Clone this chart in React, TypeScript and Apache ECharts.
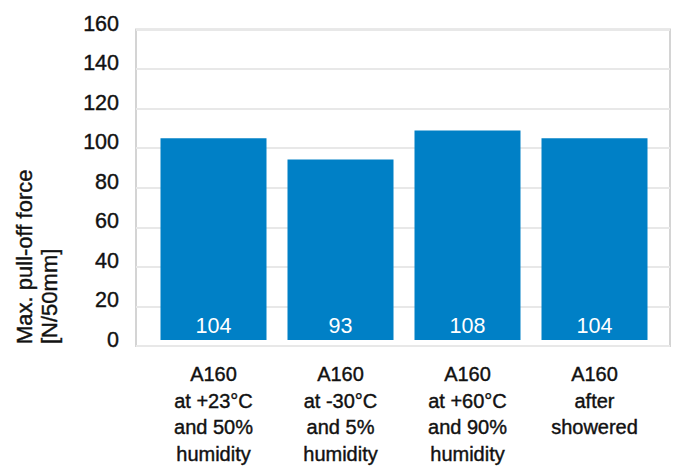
import React, { useEffect, useRef } from "react";
import * as echarts from "echarts";

const categories = [
  "A160\nat +23°C\nand 50%\nhumidity",
  "A160\nat -30°C\nand 5%\nhumidity",
  "A160\nat +60°C\nand 90%\nhumidity",
  "A160\nafter\nshowered",
];
const values = [104, 93, 108, 104];
const yTitleLines = ["Max. pull-off force", "[N/50mm]"];

const FONT = "'Liberation Sans', Arial, Helvetica, sans-serif";
const INK = "#111111";

export default function App() {
  const ref = useRef<HTMLDivElement>(null);
  useEffect(() => {
    if (!ref.current) return;
    const chart = echarts.init(ref.current, undefined, { renderer: "svg" });
    chart.setOption({
      animation: false,
      backgroundColor: "#ffffff",
      textStyle: { fontFamily: FONT },
      grid: [
        {
          left: 136,
          right: 8,
          top: 29.5,
          bottom: 121,
          show: true,
          borderColor: "#d4d4d4",
          borderWidth: 2,
          backgroundColor: "#ffffff",
        },
        { left: 150, right: 20, top: 29.5, bottom: 121 },
      ],
      xAxis: [
        {
          gridIndex: 0,
          type: "category",
          data: categories,
          show: false,
        },
        {
          gridIndex: 1,
          type: "category",
          data: categories,
          axisLine: { show: false },
          axisTick: { show: false },
          axisLabel: {
            interval: 0,
            margin: 21,
            fontSize: 20,
            lineHeight: 26.5,
            color: INK,
            fontFamily: FONT,
            textBorderColor: INK,
            textBorderWidth: 0.4,
          },
        },
      ],
      yAxis: [
        {
          gridIndex: 0,
          type: "value",
          min: 0,
          max: 160,
          interval: 20,
          axisLine: { show: false },
          axisTick: { show: false },
          splitLine: { show: true, lineStyle: { color: "#e8e8e8", width: 2 } },
          axisLabel: {
            margin: 17,
            fontSize: 21.5,
            color: INK,
            fontFamily: FONT,
            verticalAlign: "bottom",
            lineHeight: 12,
            textBorderColor: INK,
            textBorderWidth: 0.4,
          },
        },
        {
          gridIndex: 1,
          type: "value",
          min: 0,
          max: 160,
          interval: 20,
          show: false,
          splitLine: { show: false },
        },
      ],
      series: [
        {
          type: "bar",
          xAxisIndex: 1,
          yAxisIndex: 1,
          data: values,
          barWidth: 106,
          itemStyle: { color: "#0080c6" },
          label: {
            show: true,
            position: "insideBottom",
            distance: 3,
            color: "#ffffff",
            fontSize: 21.5,
            lineHeight: 22,
            fontFamily: FONT,
          },
        },
      ],
      graphic: yTitleLines.map((t, i) => ({
        type: "text",
        x: 24 + i * 25,
        y: 344,
        rotation: Math.PI / 2,
        style: {
          text: t,
          fontSize: 22,
          fontFamily: FONT,
          fill: INK,
          stroke: INK,
          lineWidth: 0.4,
          textAlign: "left",
          textVerticalAlign: "middle",
        },
      })),
    });
    return () => chart.dispose();
  }, []);
  return (
    <div
      ref={ref}
      style={{ position: "fixed", left: 0, top: 0, width: 678, height: 467 }}
    />
  );
}
